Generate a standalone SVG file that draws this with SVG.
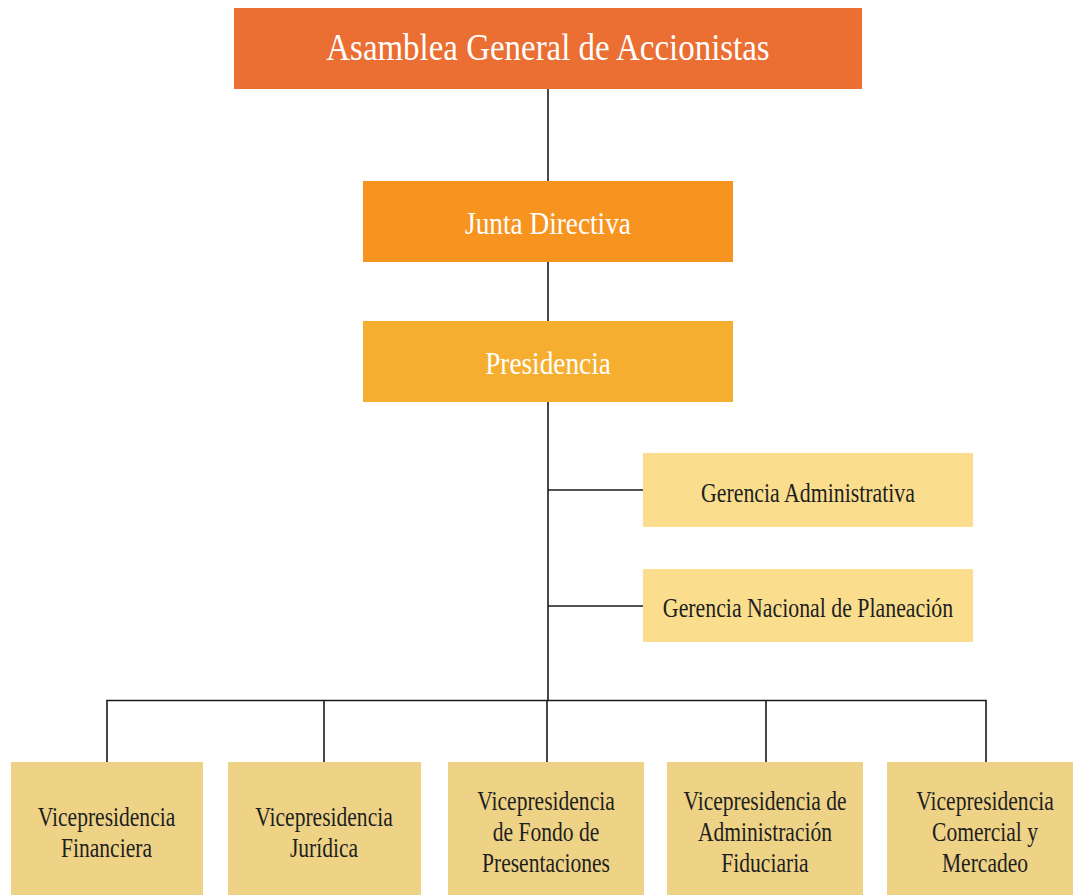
<svg xmlns="http://www.w3.org/2000/svg" width="1073" height="895" viewBox="0 0 1073 895">
<style>
text{font-family:'Liberation Serif','Times New Roman','DejaVu Serif',serif;text-anchor:middle}
.w{fill:#ffffff}
.d{fill:#1e1e1e;font-size:28px}
.c{fill:none;stroke:#1a1a1a;stroke-width:1.6}
</style>
<rect width="1073" height="895" fill="#ffffff"/>
<g id="connectors">
<line class="c" x1="548" y1="89" x2="548" y2="181"/>
<line class="c" x1="548" y1="262" x2="548" y2="321"/>
<line class="c" x1="548" y1="402" x2="548" y2="700" stroke-width="2"/>
<line class="c" x1="548" y1="490" x2="643" y2="490"/>
<line class="c" x1="548" y1="606" x2="643" y2="606"/>
<polyline class="c" points="107,762 107,700.5 986,700.5 986,762"/>
<line class="c" x1="324" y1="700" x2="324" y2="762"/>
<line class="c" x1="547" y1="700" x2="547" y2="762"/>
<line class="c" x1="766" y1="700" x2="766" y2="762"/>
</g>
<g id="asamblea">
<rect x="234" y="8" width="628" height="81" fill="#EB6E32"/>
<text class="w" font-family="Liberation Serif, serif" font-size="37" transform="matrix(0.89 0 0 1 548 59.5)">Asamblea General de Accionistas</text>
</g>
<g id="junta">
<rect x="363" y="181" width="370" height="81" fill="#F7941F"/>
<text class="w" font-family="Liberation Serif, serif" font-size="31" transform="matrix(0.88 0 0 1 548 234)">Junta Directiva</text>
</g>
<g id="presidencia">
<rect x="363" y="321" width="370" height="81" fill="#F5AE2F"/>
<text class="w" font-family="Liberation Serif, serif" font-size="31" transform="matrix(0.88 0 0 1 548 374)">Presidencia</text>
</g>
<g id="gerencia-administrativa">
<rect x="643" y="453" width="330" height="74" fill="#FADE8E"/>
<text class="d" font-family="Liberation Serif, serif" transform="matrix(0.78 0 0 1 808 501.5)">Gerencia Administrativa</text>
</g>
<g id="gerencia-planeacion">
<rect x="643" y="569" width="330" height="73" fill="#FADE8E"/>
<text class="d" font-family="Liberation Serif, serif" transform="matrix(0.78 0 0 1 808 616.5)">Gerencia Nacional de Planeación</text>
</g>
<g id="vp-financiera" font-family="Liberation Serif, serif">
<rect x="11" y="762" width="192" height="133" fill="#EED387"/>
<text class="d" transform="matrix(0.77 0 0 1 106.5 826)">Vicepresidencia</text>
<text class="d" transform="matrix(0.77 0 0 1 106.5 857)">Financiera</text>
</g>
<g id="vp-juridica">
<rect x="228" y="762" width="193" height="133" fill="#EED387"/>
<text class="d" transform="matrix(0.77 0 0 1 324 826)">Vicepresidencia</text>
<text class="d" transform="matrix(0.77 0 0 1 324 857)">Jurídica</text>
</g>
<g id="vp-fondo">
<rect x="448" y="762" width="196" height="133" fill="#EED387"/>
<text class="d" transform="matrix(0.77 0 0 1 546 810)">Vicepresidencia</text>
<text class="d" transform="matrix(0.77 0 0 1 546 841)">de Fondo de</text>
<text class="d" transform="matrix(0.77 0 0 1 546 872)">Presentaciones</text>
</g>
<g id="vp-fiduciaria">
<rect x="667" y="762" width="196" height="133" fill="#EED387"/>
<text class="d" transform="matrix(0.77 0 0 1 765 810)">Vicepresidencia de</text>
<text class="d" transform="matrix(0.77 0 0 1 765 841)">Administración</text>
<text class="d" transform="matrix(0.77 0 0 1 765 872)">Fiduciaria</text>
</g>
<g id="vp-comercial">
<rect x="887" y="762" width="196" height="133" fill="#EED387"/>
<text class="d" transform="matrix(0.77 0 0 1 985 810)">Vicepresidencia</text>
<text class="d" transform="matrix(0.77 0 0 1 985 841)">Comercial y</text>
<text class="d" transform="matrix(0.77 0 0 1 985 872)">Mercadeo</text>
</g>
</svg>
